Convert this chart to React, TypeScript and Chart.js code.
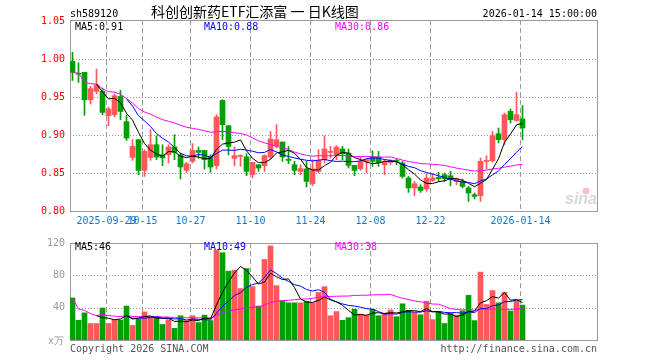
import React, { useEffect, useRef } from 'react';
import { Chart, registerables } from 'chart.js';

Chart.register(...registerables);

// ---------- data ----------
const dates = [
  '2025-09-19', '2025-09-22', '2025-09-23', '2025-09-24', '2025-09-25', '2025-09-26', '2025-09-29', '2025-09-30', '2025-10-09', '2025-10-10',
  '2025-10-13', '2025-10-14', '2025-10-15', '2025-10-16', '2025-10-17', '2025-10-20', '2025-10-21', '2025-10-22', '2025-10-23', '2025-10-24',
  '2025-10-27', '2025-10-28', '2025-10-29', '2025-10-30', '2025-10-31', '2025-11-03', '2025-11-04', '2025-11-05', '2025-11-06', '2025-11-07',
  '2025-11-10', '2025-11-11', '2025-11-12', '2025-11-13', '2025-11-14', '2025-11-17', '2025-11-18', '2025-11-19', '2025-11-20', '2025-11-21',
  '2025-11-24', '2025-11-25', '2025-11-26', '2025-11-27', '2025-11-28', '2025-12-01', '2025-12-02', '2025-12-03', '2025-12-04', '2025-12-05',
  '2025-12-08', '2025-12-09', '2025-12-10', '2025-12-11', '2025-12-12', '2025-12-15', '2025-12-16', '2025-12-17', '2025-12-18', '2025-12-19',
  '2025-12-22', '2025-12-23', '2025-12-24', '2025-12-25', '2025-12-26', '2025-12-29', '2025-12-30', '2025-12-31', '2026-01-05', '2026-01-06',
  '2026-01-07', '2026-01-08', '2026-01-09', '2026-01-12', '2026-01-13', '2026-01-14',
];

const opens = [
  0.9968, 0.9810, 0.9824, 0.9464, 0.9574, 0.9574, 0.9254, 0.9267, 0.9508, 0.9175,
  0.8705, 0.8938, 0.8534, 0.8705, 0.8872, 0.8740, 0.8740, 0.8842, 0.8740, 0.8534,
  0.8653, 0.8797, 0.8797, 0.8718, 0.8596, 0.9455, 0.9122, 0.8692, 0.8718, 0.8711,
  0.8478, 0.8609, 0.8596, 0.8711, 0.8859, 0.8908, 0.8675, 0.8609, 0.8521, 0.8553,
  0.8359, 0.8521, 0.8675, 0.8771, 0.8740, 0.8816, 0.8763, 0.8600, 0.8557, 0.8653,
  0.8718, 0.8711, 0.8609, 0.8640, 0.8662, 0.8632, 0.8434, 0.8303, 0.8316, 0.8289,
  0.8403, 0.8442, 0.8478, 0.8464, 0.8389, 0.8389, 0.8303, 0.8214, 0.8201, 0.8653,
  0.8662, 0.9017, 0.8938, 0.9311, 0.9192, 0.9211,
];

const highs = [
  1.0087, 0.9951, 0.9825, 0.9640, 0.9868, 0.9618, 0.9368, 0.9543, 0.9587, 0.9267,
  0.8938, 0.8940, 0.8807, 0.9070, 0.8990, 0.8872, 0.8872, 0.9004, 0.8763, 0.8640,
  0.8886, 0.8842, 0.8800, 0.8740, 0.9267, 0.9464, 0.9122, 0.8842, 0.8740, 0.8754,
  0.8640, 0.8609, 0.8740, 0.9047, 0.9136, 0.8908, 0.8850, 0.8653, 0.8609, 0.8653,
  0.8675, 0.8807, 0.8991, 0.8850, 0.8859, 0.8850, 0.8816, 0.8600, 0.8711, 0.8684,
  0.8793, 0.8784, 0.8675, 0.8675, 0.8684, 0.8653, 0.8455, 0.8389, 0.8346, 0.8491,
  0.8491, 0.8508, 0.8500, 0.8521, 0.8434, 0.8421, 0.8324, 0.8237, 0.8697, 0.8728,
  0.9047, 0.9092, 0.9289, 0.9342, 0.9560, 0.9388,
];

const lows = [
  0.9718, 0.9692, 0.9258, 0.9408, 0.9543, 0.9267, 0.9122, 0.9237, 0.9200, 0.8929,
  0.8666, 0.8478, 0.8455, 0.8666, 0.8675, 0.8596, 0.8632, 0.8675, 0.8421, 0.8508,
  0.8632, 0.8697, 0.8553, 0.8508, 0.8553, 0.8938, 0.8740, 0.8596, 0.8587, 0.8464,
  0.8434, 0.8521, 0.8521, 0.8684, 0.8829, 0.8653, 0.8622, 0.8478, 0.8478, 0.8316,
  0.8333, 0.8500, 0.8632, 0.8697, 0.8675, 0.8675, 0.8566, 0.8464, 0.8534, 0.8500,
  0.8587, 0.8587, 0.8478, 0.8609, 0.8609, 0.8434, 0.8245, 0.8201, 0.8245, 0.8258,
  0.8389, 0.8389, 0.8389, 0.8333, 0.8346, 0.8303, 0.8126, 0.8158, 0.8126, 0.8553,
  0.8640, 0.8895, 0.8872, 0.9158, 0.9179, 0.8938,
];

const closes = [
  0.9824, 0.9800, 0.9464, 0.9609, 0.9658, 0.9297, 0.9342, 0.9517, 0.9310, 0.8960,
  0.8850, 0.8534, 0.8784, 0.8872, 0.8710, 0.8700, 0.8842, 0.8771, 0.8579, 0.8622,
  0.8797, 0.8771, 0.8675, 0.8579, 0.9237, 0.9136, 0.8850, 0.8728, 0.8728, 0.8521,
  0.8640, 0.8566, 0.8728, 0.8947, 0.8938, 0.8711, 0.8666, 0.8534, 0.8557, 0.8389,
  0.8553, 0.8666, 0.8816, 0.8784, 0.8842, 0.8754, 0.8600, 0.8534, 0.8653, 0.8675,
  0.8653, 0.8640, 0.8640, 0.8662, 0.8655, 0.8455, 0.8303, 0.8359, 0.8271, 0.8434,
  0.8434, 0.8425, 0.8425, 0.8421, 0.8421, 0.8324, 0.8237, 0.8192, 0.8653, 0.8666,
  0.8991, 0.8938, 0.9267, 0.9201, 0.9267, 0.9092,
];

// volume, unit: 万手
const volumes = [
  52, 24.4, 33.6, 20.4, 20.4, 39.6, 20.4, 24.8, 24.8, 42,
  18, 25.6, 34.8, 28, 28, 19.2, 25.2, 14.4, 30, 24,
  30, 21.6, 30.8, 24, 111.2, 108, 85.2, 86.4, 63.6, 88.4,
  66, 42, 99.6, 116.4, 67.2, 48.8, 46, 46, 46, 48,
  46, 58.8, 66, 30, 35.2, 24.4, 27.6, 38, 32, 30.8,
  38, 30, 33.2, 37.2, 28.8, 44.8, 36.8, 34, 31.2, 48,
  25.2, 35.2, 20.4, 32.8, 30.8, 36, 55.2, 24, 84, 44,
  61.2, 46, 58.8, 36, 48, 43.2,
];

const dateTickIdx = [6, 12, 20, 30, 40, 50, 60, 75];
const dateTickLabels = ['2025-09-29', '10-15', '10-27', '11-10', '11-24', '12-08', '12-22', '2026-01-14'];
const priceTicks = [0.8, 0.85, 0.9, 0.95, 1.0, 1.05];
const volumeTicks = [40, 80, 120];
const priceMaLabels = ['MA5:0.91', 'MA10:0.88', 'MA30:0.86'];
const volumeMaLabels = ['MA5:46', 'MA10:49', 'MA30:38'];
const headerCode = 'sh589120';
const headerTitle = '科创创新药ETF汇添富 一 日K线图';
const headerTime = '2026-01-14 15:00:00';
const volumeUnit = 'x万';
const copyrightText = 'Copyright 2026 SINA.COM';
const urlText = 'http://finance.sina.com.cn';
const watermark = 'sina';

// ---------- styles ----------
const UP = '#ff5858';
const DOWN = '#00a000';
const MA_COLORS = ['#000000', '#0000ff', '#ff00ff'];
const GRID = '#9a9a9a';
const MONO = '"DejaVu Sans Mono", "Liberation Mono", monospace';
const X_MIN = -0.4167;
const X_MAX = 87.4167;

function movingAverage(values: number[], n: number, fillStart: boolean) {
  return values.map((_, i) => {
    if (i < n - 1 && !fillStart) return null;
    const from = Math.max(0, i - n + 1);
    const slice = values.slice(from, i + 1);
    return slice.reduce((a, b) => a + b, 0) / slice.length;
  });
}

const idx = dates.map((_, i) => i);
const barColors = idx.map((i) => (closes[i] >= opens[i] ? UP : DOWN));

function maDatasets(values: number[], yAxisID: string) {
  const series = [movingAverage(values, 5, false), movingAverage(values, 10, false), movingAverage(values, 30, true)];
  return series.map((s, k) => ({
    type: 'line' as const,
    data: idx.map((i) => ({ x: i, y: s[i] })),
    borderColor: MA_COLORS[k],
    borderWidth: 1,
    pointRadius: 0,
    fill: false,
    tension: 0,
    yAxisID,
    order: 0,
  }));
}

function drawFrameAndGrid(chart: any, yTicks: number[]) {
  const { ctx, chartArea } = chart;
  const xs = chart.scales.x;
  const ys = chart.scales.y;
  ctx.save();
  ctx.lineWidth = 1;
  ctx.strokeStyle = GRID;
  // horizontal dotted grid
  ctx.setLineDash([1, 2]);
  yTicks.forEach((v) => {
    const py = Math.round(ys.getPixelForValue(v));
    if (py <= chartArea.top + 2 || py >= chartArea.bottom - 1) return;
    ctx.beginPath();
    ctx.moveTo(chartArea.left, py + 0.5);
    ctx.lineTo(chartArea.right, py + 0.5);
    ctx.stroke();
  });
  // vertical dashed date lines
  ctx.setLineDash([5, 3]);
  dateTickIdx.forEach((i) => {
    const px = Math.floor(xs.getPixelForValue(i - 1 / 3)) + 0.5;
    ctx.beginPath();
    ctx.moveTo(px, chartArea.top);
    ctx.lineTo(px, chartArea.bottom);
    ctx.stroke();
  });
  ctx.setLineDash([]);
  ctx.strokeRect(chartArea.left + 0.5, chartArea.top + 0.5, chartArea.right - chartArea.left, chartArea.bottom - chartArea.top);
  ctx.restore();
}

function drawLegend(ctx: any, labels: string[], y: number) {
  const xs = [75, 204, 335];
  ctx.save();
  ctx.font = `10px ${MONO}`;
  ctx.textBaseline = 'alphabetic';
  ctx.textAlign = 'left';
  labels.forEach((t, k) => {
    ctx.fillStyle = MA_COLORS[k];
    ctx.fillText(t, xs[k], y);
  });
  ctx.restore();
}

const pricePlugin = {
  id: 'pricePanel',
  beforeDatasetsDraw(chart: any) {
    const { ctx } = chart;
    drawFrameAndGrid(chart, priceTicks);
    // watermark
    ctx.save();
    ctx.font = 'italic bold 16px "Liberation Sans", Arial, sans-serif';
    ctx.fillStyle = 'rgba(190,180,180,0.55)';
    ctx.textAlign = 'left';
    ctx.fillText(watermark, 565, 204);
    ctx.fillStyle = 'rgba(230,120,120,0.45)';
    ctx.beginPath();
    ctx.arc(586, 191, 3.5, 0, Math.PI * 2);
    ctx.fill();
    ctx.restore();
  },
  afterDraw(chart: any) {
    const { ctx } = chart;
    ctx.save();
    ctx.fillStyle = '#000';
    ctx.font = `10px ${MONO}`;
    ctx.textAlign = 'left';
    ctx.fillText(headerCode, 70, 17);
    ctx.textAlign = 'right';
    ctx.fillText(headerTime, 597, 17);
    ctx.textAlign = 'left';
    ctx.font = '14px "Noto Sans CJK SC", sans-serif';
    ctx.fillText(headerTitle, 151, 17);
    ctx.restore();
    drawLegend(ctx, priceMaLabels, 30);
  },
};

const volumePlugin = {
  id: 'volumePanel',
  beforeDatasetsDraw(chart: any) {
    drawFrameAndGrid(chart, volumeTicks);
  },
  afterDraw(chart: any) {
    const { ctx } = chart;
    drawLegend(ctx, volumeMaLabels, 18);
    ctx.save();
    ctx.font = `10px ${MONO}`;
    ctx.fillStyle = '#999';
    ctx.textAlign = 'right';
    ctx.fillText(volumeUnit, 64, 112);
    ctx.fillStyle = '#555';
    ctx.textAlign = 'left';
    ctx.fillText(copyrightText, 70, 120);
    ctx.textAlign = 'right';
    ctx.fillText(urlText, 597, 120);
    ctx.restore();
  },
};

function priceConfig(): any {
  return {
    type: 'bar',
    data: {
      datasets: [
        ...maDatasets(closes, 'y'),
        {
          type: 'bar',
          data: idx.map((i) => ({ x: i, y: [opens[i], closes[i]] })),
          backgroundColor: barColors,
          borderWidth: 0,
          barThickness: 5,
          minBarLength: 1,
          grouped: false,
          order: 1,
        },
        {
          type: 'bar',
          data: idx.map((i) => ({ x: i, y: [lows[i], highs[i]] })),
          backgroundColor: barColors,
          borderWidth: 0,
          barThickness: 1,
          grouped: false,
          order: 2,
        },
      ],
    },
    options: {
      animation: false,
      responsive: false,
      devicePixelRatio: 1,
      events: [],
      layout: { padding: { left: 0, right: 63, top: 20, bottom: 0 } },
      plugins: { legend: { display: false }, tooltip: { enabled: false }, title: { display: false } },
      scales: {
        x: {
          type: 'linear',
          min: X_MIN,
          max: X_MAX,
          offset: false,
          grid: { display: false, drawTicks: false },
          border: { display: false },
          afterBuildTicks: (s: any) => {
            s.ticks = dateTickIdx.map((i) => ({ value: i - 1 / 3 }));
          },
          afterFit: (s: any) => {
            s.height = 21;
          },
          ticks: {
            autoSkip: false,
            maxRotation: 0,
            minRotation: 0,
            padding: 4,
            color: '#1478c8',
            font: { family: MONO, size: 10 },
            callback: (_v: any, index: number) => dateTickLabels[index],
          },
        },
        y: {
          type: 'linear',
          position: 'left',
          min: 0.8,
          max: 0.8 + 191 / 760,
          beginAtZero: false,
          grid: { display: false, drawTicks: false },
          border: { display: false },
          afterBuildTicks: (s: any) => {
            s.ticks = priceTicks.map((v) => ({ value: v }));
          },
          afterFit: (s: any) => {
            s.width = 70;
          },
          ticks: {
            color: '#ff0000',
            padding: 5,
            font: { family: MONO, size: 10 },
            callback: (v: any) => Number(v).toFixed(2),
          },
        },
      },
    },
    plugins: [pricePlugin],
  };
}

function volumeConfig(): any {
  return {
    type: 'bar',
    data: {
      datasets: [
        ...maDatasets(volumes, 'y'),
        {
          type: 'bar',
          data: idx.map((i) => ({ x: i, y: volumes[i] })),
          backgroundColor: barColors,
          borderWidth: 0,
          barThickness: 5,
          grouped: false,
          order: 1,
        },
      ],
    },
    options: {
      animation: false,
      responsive: false,
      devicePixelRatio: 1,
      events: [],
      layout: { padding: { left: 0, right: 63, top: 8, bottom: 20 } },
      plugins: { legend: { display: false }, tooltip: { enabled: false }, title: { display: false } },
      scales: {
        x: {
          type: 'linear',
          min: X_MIN,
          max: X_MAX,
          offset: false,
          display: false,
        },
        y: {
          type: 'linear',
          position: 'left',
          min: 0,
          max: 120,
          grid: { display: false, drawTicks: false },
          border: { display: false },
          afterBuildTicks: (s: any) => {
            s.ticks = volumeTicks.map((v) => ({ value: v }));
          },
          afterFit: (s: any) => {
            s.width = 70;
          },
          ticks: {
            color: '#999',
            padding: 5,
            font: { family: MONO, size: 10 },
            callback: (v: any) => String(v),
          },
        },
      },
    },
    plugins: [volumePlugin],
  };
}

export default function App() {
  const priceRef = useRef<HTMLCanvasElement>(null);
  const volRef = useRef<HTMLCanvasElement>(null);

  useEffect(() => {
    document.body.style.margin = '0';
    const c1 = new Chart(priceRef.current as HTMLCanvasElement, priceConfig());
    const c2 = new Chart(volRef.current as HTMLCanvasElement, volumeConfig());
    return () => {
      c1.destroy();
      c2.destroy();
    };
  }, []);

  return (
    <div style={{ position: 'relative', width: 660, height: 360, background: '#fff' }}>
      <canvas ref={priceRef} width={660} height={232} style={{ position: 'absolute', left: 0, top: 0 }} />
      <canvas ref={volRef} width={660} height={128} style={{ position: 'absolute', left: 0, top: 232 }} />
    </div>
  );
}
